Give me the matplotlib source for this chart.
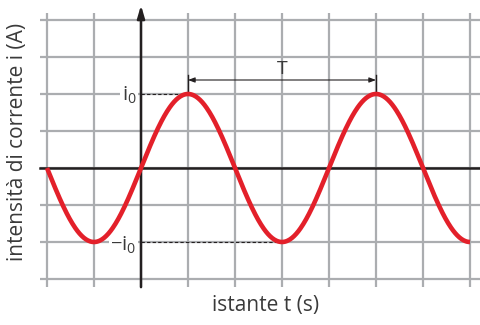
import numpy as np
import matplotlib.pyplot as plt

plt.rcParams['font.family'] = ['Open Sans', 'DejaVu Sans']
plt.rcParams['mathtext.default'] = 'regular'

# Define data.
i0 = 1.0            # peak current (amplitude)
period = 4.0        # T, in grid columns
t_start, t_end = -2.0, 7.0
grid_t = [-2, -1, 0, 1, 2, 3, 4, 5, 6, 7]
grid_i = [-1.5, -1.0, -0.5, 0.0, 0.5, 1.0, 1.5, 2.0]
t_peak1, t_peak2 = 1.0, 5.0
t_trough = 3.0

# Colours.
grid_color = '#abadb0'
curve_color = '#e3202a'
ink = '#231f20'
text_color = '#3a3a3a'

fig = plt.figure(figsize=(4.8, 3.25), dpi=100)
ax = fig.add_axes([0, 0, 1, 1])
ax.set_xlim(-3.0, 339 / 47)
ax.set_ylim(-157 / 74, 168 / 74)
ax.axis('off')

# Grid.
for t in grid_t:
    ax.plot([t, t], [-1.61, 2.095], color=grid_color, lw=1.6, zorder=1,
            solid_capstyle='butt')
for y in grid_i:
    ax.plot([-2.15, 7.3], [y, y], color=grid_color, lw=1.6, zorder=1,
            solid_capstyle='butt')

# Axes.
ax.plot([-2.15, 7.3], [0, 0], color=ink, lw=1.8, zorder=3)
ax.annotate('', xy=(0, 2.2), xytext=(0, -1.61),
            arrowprops=dict(arrowstyle='-|>,head_length=0.75,head_width=0.22',
                            color=ink, lw=1.8, shrinkA=0, shrinkB=0),
            zorder=4)

# Curve.
t = np.linspace(t_start, t_end, 600)
i = i0 * np.sin(2 * np.pi * t / period)
ax.plot(t, i, color=curve_color, lw=3.3, zorder=5, solid_capstyle='butt')

# Dashed reference lines and labels.
ax.plot([0, t_peak1], [i0, i0], color=ink, lw=0.8, ls=(0, (3, 2)), zorder=2)
ax.plot([0, t_trough], [-i0, -i0], color=ink, lw=0.8, ls=(0, (3, 2)), zorder=2)
ax.text(-0.1, i0 - 0.02, r'$\mathregular{i_0}$', ha='right', va='center',
        fontsize=14.5, color=text_color, zorder=3,
        bbox=dict(facecolor='white', edgecolor='none', pad=1.0))
ax.text(-0.1, -i0 - 0.04, r'$\mathregular{-i_0}$', ha='right', va='center',
        fontsize=14.5, color=text_color, zorder=3,
        bbox=dict(facecolor='white', edgecolor='none', pad=1.0))

# Period arrow.
y_arrow = (168 - 80) / 74
ax.annotate('', xy=(t_peak2, y_arrow), xytext=(t_peak1, y_arrow),
            arrowprops=dict(arrowstyle='<|-|>,head_length=0.4,head_width=0.15',
                            color=ink, lw=0.8, shrinkA=0, shrinkB=0), zorder=4)
for tp in (t_peak1, t_peak2):
    ax.plot([tp, tp], [(168 - 92) / 74, (168 - 75) / 74], color=ink, lw=1.0,
            zorder=4)
ax.text((t_peak1 + t_peak2) / 2, y_arrow + 0.03, 'T', ha='center',
        va='bottom', fontsize=14, color=text_color)

# Axis labels.
ax.text(-2.62, 0.35, 'intensità di corrente i (A)', rotation=90,
        ha='center', va='center', fontsize=15, color=text_color)
ax.text(2.64, (168 - 305) / 74, 'istante t (s)', ha='center', va='center',
        fontsize=15, color=text_color)

plt.savefig('out.png', dpi=100)
